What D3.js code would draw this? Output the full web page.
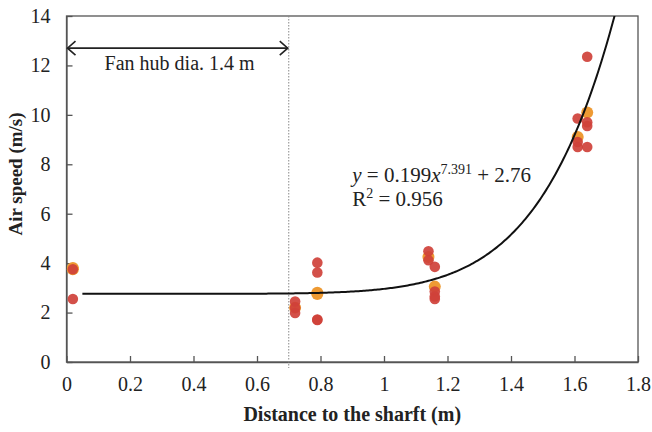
<!DOCTYPE html>
<html>
<head>
<meta charset="utf-8">
<script src="https://cdn.jsdelivr.net/npm/d3@7"></script>
<style>
  body { margin: 0; background: #fff; }
  text { font-family: "Liberation Serif", "Times New Roman", serif; fill: #222; }
</style>
</head>
<body>
<script>
// measured points (distance m, speed m/s)
var orangeX = [0.02, 0.02, 0.72, 0.79, 0.79, 1.14, 1.16, 1.61, 1.64];
var orangeY = [3.8, 3.75, 2.2, 2.8, 2.75, 4.25, 3.05, 9.1, 10.1];
var redX = [0.02, 0.02, 0.72, 0.72, 0.72, 0.79, 0.79, 0.79, 0.79, 1.14, 1.14, 1.16, 1.16, 1.16, 1.16, 1.61, 1.61, 1.61, 1.64, 1.64, 1.64, 1.64];
var redY = [3.75, 2.55, 2.45, 2.2, 1.98, 4.02, 3.62, 1.72, 1.7, 4.48, 4.12, 3.85, 2.85, 2.65, 2.55, 9.85, 8.9, 8.7, 12.35, 9.7, 9.55, 8.7];
var xTicks = [0, 0.2, 0.4, 0.6, 0.8, 1, 1.2, 1.4, 1.6, 1.8];
var yTicks = [0, 2, 4, 6, 8, 10, 12, 14];
// fitted curve y = a x^b + c
var fitA = 0.199, fitB = 7.391, fitC = 2.76;

var margin = {top: 16, right: 14, bottom: 70, left: 66.5},
    width = 652 - margin.left - margin.right,
    height = 432 - margin.top - margin.bottom;

var svg = d3.select("body").append("svg")
    .attr("width", 652)
    .attr("height", 432);

var defs = svg.append("defs");
defs.append("clipPath").attr("id", "clip")
  .append("rect").attr("width", width).attr("height", height);
defs.append("marker")
    .attr("id", "chev")
    .attr("viewBox", "-10 -10 20 20")
    .attr("markerWidth", 20).attr("markerHeight", 20)
    .attr("markerUnits", "userSpaceOnUse")
    .attr("orient", "auto-start-reverse")
  .append("path")
    .attr("d", "M-8,-7 L0,0 L-8,7")
    .attr("fill", "none").attr("stroke", "#222").attr("stroke-width", 1.6);

var g = svg.append("g")
    .attr("transform", "translate(" + margin.left + "," + margin.top + ")");

var x = d3.scaleLinear().domain([0, 1.8]).range([0, width]);
var y = d3.scaleLinear().domain([0, 14]).range([height, 0]);

// frame
g.append("rect")
    .attr("width", width).attr("height", height)
    .attr("fill", "none").attr("stroke", "#555").attr("stroke-width", 1.3);

// x axis, ticks pointing inside
var xAxis = g.append("g")
    .attr("transform", "translate(0," + height + ")")
    .call(d3.axisBottom(x).tickValues(xTicks).tickSizeInner(-6).tickSizeOuter(0).tickPadding(15)
      .tickFormat(function(d) { return d3.format("")(d); }));
xAxis.select(".domain").attr("stroke", "#555").attr("stroke-width", 1.3);
xAxis.selectAll(".tick line").attr("stroke", "#555").attr("stroke-width", 1.3);
xAxis.selectAll("text").style("font-size", "20px").attr("fill", "#222");

var yAxis = g.append("g")
    .call(d3.axisLeft(y).tickValues(yTicks).tickSizeInner(-6).tickSizeOuter(0).tickPadding(16));
yAxis.select(".domain").attr("stroke", "#555").attr("stroke-width", 1.3);
yAxis.selectAll(".tick line").attr("stroke", "#555").attr("stroke-width", 1.3);
yAxis.selectAll("text").style("font-size", "20px").attr("fill", "#222");

// axis titles
svg.append("text")
    .attr("x", margin.left + width / 2).attr("y", 421)
    .attr("text-anchor", "middle")
    .style("font-size", "20px").style("font-weight", "bold")
    .text("Distance to the sharft (m)");
svg.append("text")
    .attr("transform", "translate(22," + (margin.top + height / 2 - 15) + ") rotate(-90)")
    .attr("text-anchor", "middle")
    .style("font-size", "19px").style("font-weight", "bold")
    .text("Air speed (m/s)");

// fan hub boundary
g.append("line")
    .attr("x1", x(0.7)).attr("x2", x(0.7))
    .attr("y1", 0).attr("y2", height + 6)
    .attr("stroke", "#888").attr("stroke-width", 1).attr("stroke-dasharray", "1.5,1.5");

g.append("line")
    .attr("x1", x(0) + 1).attr("x2", x(0.7) - 1)
    .attr("y1", y(12.7)).attr("y2", y(12.7))
    .attr("stroke", "#222").attr("stroke-width", 1.6)
    .attr("marker-start", "url(#chev)").attr("marker-end", "url(#chev)");

g.append("text")
    .attr("x", x(0.12)).attr("y", y(11.8))
    .style("font-size", "20px")
    .text("Fan hub dia. 1.4 m");

// points
g.selectAll(".dot-o")
    .data(orangeX.map(function(d, i) { return [d, orangeY[i]]; }))
  .enter().append("circle")
    .attr("cx", function(d) { return x(d[0]); })
    .attr("cy", function(d) { return y(d[1]); })
    .attr("r", 6)
    .attr("fill", "#ee9a33");

g.selectAll(".dot-r")
    .data(redX.map(function(d, i) { return [d, redY[i]]; }))
  .enter().append("circle")
    .attr("cx", function(d) { return x(d[0]); })
    .attr("cy", function(d) { return y(d[1]); })
    .attr("r", 5.3)
    .attr("fill", "#cf4139")
    .attr("fill-opacity", 0.92);

// fitted curve
var curveX = d3.range(0.05, 1.76, 0.005);
var line = d3.line()
    .x(function(d) { return x(d); })
    .y(function(d) { return y(fitA * Math.pow(d, fitB) + fitC); });
g.append("path")
    .datum(curveX)
    .attr("clip-path", "url(#clip)")
    .attr("d", line)
    .attr("fill", "none").attr("stroke", "#111").attr("stroke-width", 2);

// equation
var eq = g.append("text")
    .attr("x", x(0.9)).attr("y", y(7.3))
    .style("font-size", "21px");
eq.append("tspan").style("font-style", "italic").text("y");
eq.append("tspan").text(" = 0.199");
eq.append("tspan").style("font-style", "italic").text("x");
eq.append("tspan").attr("dy", -8).style("font-size", "14px").text("7.391");
eq.append("tspan").attr("dy", 8).text(" + 2.76");

var r2 = g.append("text")
    .attr("x", x(0.9)).attr("y", y(6.3))
    .style("font-size", "21px");
r2.append("tspan").text("R");
r2.append("tspan").attr("dy", -8).style("font-size", "14px").text("2");
r2.append("tspan").attr("dy", 8).text(" = 0.956");
</script>
</body>
</html>
